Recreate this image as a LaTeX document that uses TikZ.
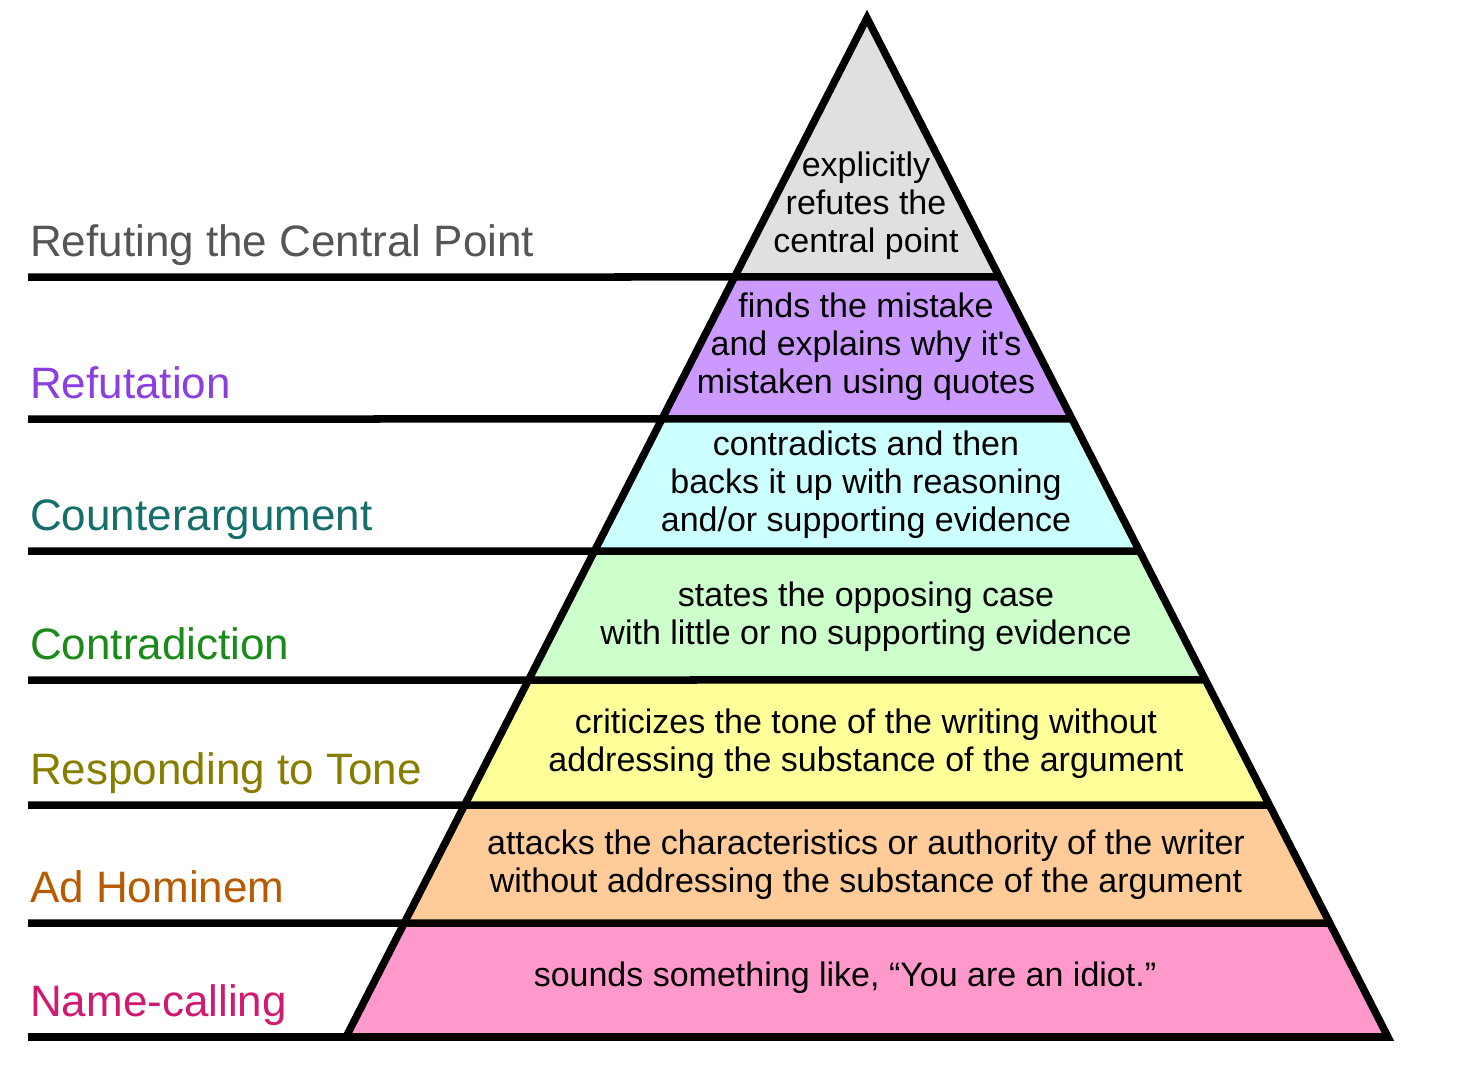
\documentclass[tikz,border=0pt]{standalone}
\usepackage{fontspec}
\setmainfont{Liberation Sans}
\usepackage{xcolor}
\usetikzlibrary{calc}

\definecolor{bandgray}{HTML}{E0E0E0}
\definecolor{bandpurple}{HTML}{CC99FF}
\definecolor{bandcyan}{HTML}{CCFFFF}
\definecolor{bandgreen}{HTML}{CCFFCC}
\definecolor{bandyellow}{HTML}{FFFF99}
\definecolor{bandorange}{HTML}{FFCC99}
\definecolor{bandpink}{HTML}{FF99CC}
\definecolor{txtgray}{HTML}{555555}
\definecolor{txtpurple}{HTML}{8A3FDE}
\definecolor{txtteal}{HTML}{146E6A}
\definecolor{txtgreen}{HTML}{1A8A1A}
\definecolor{txtolive}{HTML}{877E00}
\definecolor{txtbrown}{HTML}{B85A00}
\definecolor{txtpink}{HTML}{D01A70}

\begin{document}
\begin{tikzpicture}[x=1pt, y=-1pt,
    level/.style={font=\fontsize{44}{50}\selectfont, anchor=base west, inner sep=0pt},
    desc/.style={font=\fontsize{34}{38}\selectfont, align=center, inner sep=0pt},
    rule/.style={line width=7.5pt}]
    \useasboundingbox (0,0) rectangle (1462,1092);
    \coordinate (apex) at (867,18);
    \coordinate (bl) at (346,1037);
    \coordinate (br) at (1388,1037);

    % coloured bands
    \begin{scope}
        \clip (apex) -- (bl) -- (br) -- cycle;
        \foreach \ytop/\ybot/\col in {0/277/bandgray, 277/419/bandpurple, 419/551/bandcyan,
            551/680/bandgreen, 680/805/bandyellow, 805/923/bandorange, 923/1040/bandpink}
            \fill[\col] (300,\ytop) rectangle (1420,\ybot);
    \end{scope}

    % level rules
    \foreach \y in {277,419,551,680,805,923,1037}
        \draw[rule] (28,\y) -- ($(apex)!{(\y-18)/1019}!(br)$);
    \draw[rule, line join=miter] (apex) -- (bl) -- (br) -- cycle;

    \node[level, text=txtgray] (lvl7) at (30,256) {Refuting the Central Point};
    \node[level, text=txtpurple] (lvl6) at (30,398) {Refutation};
    \node[level, text=txtteal] (lvl5) at (30,530) {Counterargument};
    \node[level, text=txtgreen] (lvl4) at (30,659) {Contradiction};
    \node[level, text=txtolive] (lvl3) at (30,784) {Responding to Tone};
    \node[level, text=txtbrown] (lvl2) at (30,902) {Ad Hominem};
    \node[level, text=txtpink] (lvl1) at (30,1016) {Name-calling};

    \node[desc] (d7) at (866,206) {explicitly\\refutes the\\central point};
    \node[desc] (d6) at (866,347) {finds the mistake\\and explains why it\textquotesingle s\\mistaken using quotes};
    \node[desc] (d5) at (866,485) {contradicts and then\\backs it up with reasoning\\and/or supporting evidence};
    \node[desc] (d4) at (866,617) {states the opposing case\\with little or no supporting evidence};
    \node[desc] (d3) at (866,744) {criticizes the tone of the writing without\\addressing the substance of the argument};
    \node[desc] (d2) at (866,865) {attacks the characteristics or authority of the writer\\without addressing the substance of the argument};
    \node[desc] (d1) at (845,978) {sounds something like, “You are an idiot.”};
\end{tikzpicture}
\end{document}
